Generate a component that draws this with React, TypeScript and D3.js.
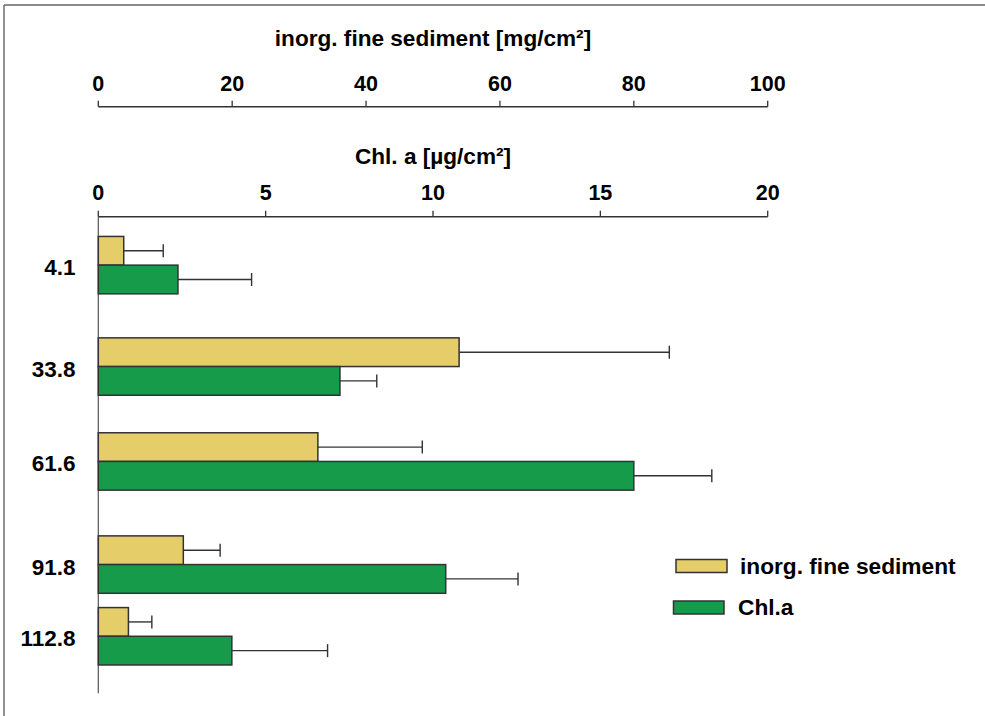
import React from "react";
import * as d3 from "d3";

const depths = [4.1, 33.8, 61.6, 91.8, 112.8];
const depthLabels = ["4.1", "33.8", "61.6", "91.8", "112.8"];
const sediment = [3.8, 53.9, 32.8, 12.7, 4.5];
const sedimentErr = [5.9, 31.4, 15.6, 5.5, 3.5];
const chl = [2.38, 7.22, 16.0, 10.38, 3.99];
const chlErr = [2.2, 1.1, 2.33, 2.16, 2.86];
const sedTicks = [0, 20, 40, 60, 80, 100];
const chlTicks = [0, 5, 10, 15, 20];
const sedTitle = "inorg. fine sediment [mg/cm²]";
const chlTitle = "Chl. a [µg/cm²]";
const legendLabels = ["inorg. fine sediment", "Chl.a"];

const W = 985;
const H = 716;
const YELLOW = "#E5CD6A";
const GREEN = "#169B4A";
const STROKE = "#333";
const FONT = "'Liberation Sans', Arial, Helvetica, sans-serif";

export default function App() {
  const xSed = d3.scaleLinear().domain([0, 100]).range([98.3, 767.7]);
  const xChl = d3.scaleLinear().domain([0, 20]).range([98.3, 767.7]);
  const y = d3.scaleLinear().domain([-10, 130]).range([217, 695]);
  const bh = 28.7;
  const capH = 13;
  const sedAxisY = 106.7;
  const chlAxisY = 216.7;

  return (
    <div style={{ position: "absolute", left: 0, top: 0 }}>
      <svg width={W} height={H} style={{ display: "block", background: "#fff" }} fontFamily={FONT}>
        {/* frame */}
        <line x1={4} y1={5} x2={W} y2={5} stroke="#666" strokeWidth={1.6} />
        <line x1={4} y1={5} x2={4} y2={H} stroke="#777" strokeWidth={1.6} />

        {/* sediment axis */}
        <text x={(xSed(0) + xSed(100)) / 2} y={46} textAnchor="middle" fontSize={22.6} fontWeight="bold">
          {sedTitle}
        </text>
        <line x1={xSed(0)} y1={sedAxisY} x2={xSed(100)} y2={sedAxisY} stroke={STROKE} strokeWidth={1.5} />
        {sedTicks.map((t) => (
          <g key={"s" + t}>
            <line x1={xSed(t)} y1={sedAxisY} x2={xSed(t)} y2={sedAxisY - 6} stroke={STROKE} strokeWidth={1.3} />
            <text x={xSed(t)} y={sedAxisY - 16} textAnchor="middle" fontSize={21.5} fontWeight="bold">
              {t}
            </text>
          </g>
        ))}

        {/* chl axis */}
        <text x={(xChl(0) + xChl(20)) / 2} y={164} textAnchor="middle" fontSize={22.6} fontWeight="bold">
          {chlTitle}
        </text>
        <line x1={xChl(0)} y1={chlAxisY} x2={xChl(20)} y2={chlAxisY} stroke={STROKE} strokeWidth={1.5} />
        {chlTicks.map((t) => (
          <g key={"c" + t}>
            <line x1={xChl(t)} y1={chlAxisY} x2={xChl(t)} y2={chlAxisY - 6} stroke={STROKE} strokeWidth={1.3} />
            <text x={xChl(t)} y={chlAxisY - 16.5} textAnchor="middle" fontSize={21.5} fontWeight="bold">
              {t}
            </text>
          </g>
        ))}

        {/* vertical axis */}
        <line x1={xChl(0)} y1={chlAxisY} x2={xChl(0)} y2={y(129.5)} stroke="#555" strokeWidth={1.2} />

        {/* bars */}
        {depths.map((d, i) => {
          const yc = y(d);
          const ySedMid = yc - bh / 2;
          const yChlMid = yc + bh / 2;
          return (
            <g key={"b" + i}>
              <line x1={xSed(sediment[i])} y1={ySedMid} x2={xSed(sediment[i] + sedimentErr[i])} y2={ySedMid} stroke={STROKE} strokeWidth={1.4} />
              <line x1={xSed(sediment[i] + sedimentErr[i])} y1={ySedMid - capH / 2} x2={xSed(sediment[i] + sedimentErr[i])} y2={ySedMid + capH / 2} stroke={STROKE} strokeWidth={1.4} />
              <line x1={xChl(chl[i])} y1={yChlMid} x2={xChl(chl[i] + chlErr[i])} y2={yChlMid} stroke={STROKE} strokeWidth={1.4} />
              <line x1={xChl(chl[i] + chlErr[i])} y1={yChlMid - capH / 2} x2={xChl(chl[i] + chlErr[i])} y2={yChlMid + capH / 2} stroke={STROKE} strokeWidth={1.4} />
              <rect x={xSed(0)} y={yc - bh} width={xSed(sediment[i]) - xSed(0)} height={bh} fill={YELLOW} stroke={STROKE} strokeWidth={1.5} />
              <rect x={xChl(0)} y={yc} width={xChl(chl[i]) - xChl(0)} height={bh} fill={GREEN} stroke={STROKE} strokeWidth={1.5} />
              <text x={75.5} y={yc + 10} textAnchor="end" fontSize={22.5} fontWeight="bold">
                {depthLabels[i]}
              </text>
            </g>
          );
        })}

        {/* legend */}
        <rect x={676} y={559.5} width={51} height={13} fill={YELLOW} stroke={STROKE} strokeWidth={1.5} />
        <text x={740} y={574} fontSize={22.7} fontWeight="bold">
          {legendLabels[0]}
        </text>
        <rect x={673.5} y={601} width={50.5} height={13} fill={GREEN} stroke={STROKE} strokeWidth={1.5} />
        <text x={738} y={614.5} fontSize={22.7} fontWeight="bold">
          {legendLabels[1]}
        </text>
      </svg>
    </div>
  );
}
